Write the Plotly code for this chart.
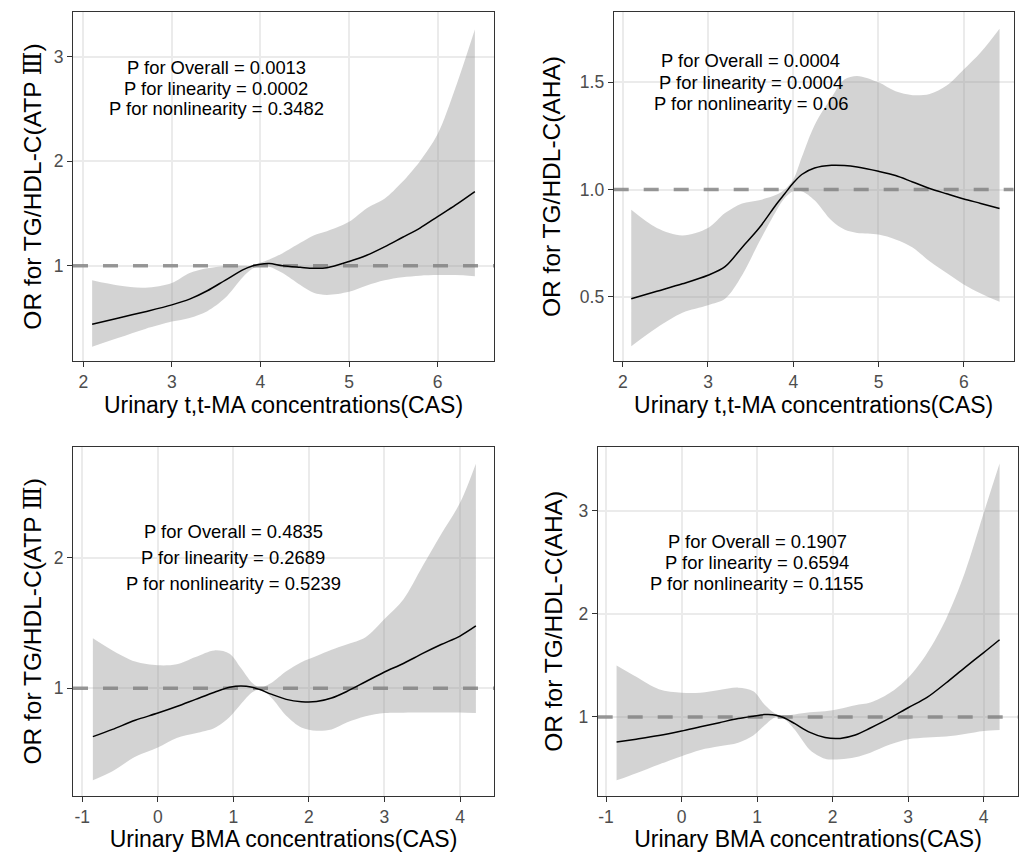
import plotly.graph_objects as go

# ---------------- data ----------------
# Top row: urinary t,t-MA
ttma_x = [2.1, 2.4, 2.7, 3.0, 3.2, 3.4, 3.6, 3.8, 3.9, 4.0, 4.1, 4.25, 4.45,
          4.6, 4.75, 5.0, 5.2, 5.4, 5.6, 5.8, 6.0, 6.2, 6.42]

atp_ttma_or = [0.44, 0.50, 0.56, 0.625, 0.68, 0.76, 0.86, 0.96, 0.995, 1.015, 1.02, 1.0, 0.985,
               0.975, 0.98, 1.04, 1.10, 1.18, 1.27, 1.36, 1.47, 1.58, 1.71]
atp_ttma_lo = [0.225, 0.31, 0.395, 0.465, 0.50, 0.565, 0.69, 0.89, 0.965, 1.0, 0.99, 0.93, 0.815,
               0.74, 0.72, 0.75, 0.81, 0.86, 0.89, 0.905, 0.91, 0.91, 0.90]
atp_ttma_hi = [0.86, 0.81, 0.79, 0.835, 0.93, 0.975, 0.995, 1.0, 1.0, 1.03, 1.06, 1.12, 1.22,
               1.29, 1.33, 1.42, 1.55, 1.64, 1.80, 2.0, 2.26, 2.70, 3.26]

aha_ttma_or = [0.49, 0.525, 0.56, 0.60, 0.64, 0.73, 0.82, 0.93, 0.98, 1.03, 1.07, 1.10, 1.113,
               1.112, 1.105, 1.085, 1.065, 1.035, 1.005, 0.98, 0.956, 0.935, 0.911]
aha_ttma_lo = [0.269, 0.355, 0.425, 0.46, 0.49, 0.60, 0.755, 0.90, 0.96, 0.992, 0.992, 0.95, 0.855,
               0.813, 0.797, 0.79, 0.767, 0.73, 0.665, 0.61, 0.557, 0.515, 0.476]
aha_ttma_hi = [0.905, 0.82, 0.785, 0.82, 0.89, 0.935, 0.95, 0.975, 1.0, 1.045, 1.15, 1.30, 1.43,
               1.513, 1.53, 1.50, 1.458, 1.44, 1.446, 1.485, 1.56, 1.64, 1.75]

# Bottom row: urinary BMA
bma_x = [-0.86, -0.6, -0.3, 0.0, 0.25, 0.5, 0.75, 0.95, 1.1, 1.25, 1.35, 1.5, 1.7, 1.9,
         2.1, 2.3, 2.5, 2.75, 3.0, 3.25, 3.5, 3.75, 4.0, 4.21]

atp_bma_or = [0.63, 0.685, 0.755, 0.81, 0.86, 0.915, 0.97, 1.008, 1.018, 1.008, 0.99, 0.955,
              0.915, 0.897, 0.898, 0.925, 0.975, 1.05, 1.125, 1.19, 1.265, 1.335, 1.40, 1.477]
atp_bma_lo = [0.296, 0.365, 0.475, 0.546, 0.62, 0.655, 0.695, 0.78, 0.88, 0.97, 0.99, 0.93,
              0.79, 0.70, 0.675, 0.685, 0.737, 0.785, 0.81, 0.813, 0.814, 0.814, 0.814, 0.81]
atp_bma_hi = [1.383, 1.29, 1.205, 1.176, 1.184, 1.24, 1.29, 1.265, 1.155, 1.04, 1.005, 1.04,
              1.13, 1.20, 1.247, 1.295, 1.335, 1.39, 1.53, 1.68, 1.93, 2.18, 2.42, 2.72]

aha_bma_or = [0.757, 0.785, 0.82, 0.864, 0.905, 0.945, 0.985, 1.008, 1.023, 1.018, 0.995, 0.935,
              0.85, 0.80, 0.792, 0.825, 0.893, 0.986, 1.09, 1.19, 1.33, 1.48, 1.625, 1.75]
aha_bma_lo = [0.385, 0.455, 0.54, 0.62, 0.68, 0.715, 0.75, 0.82, 0.92, 1.0, 0.985, 0.875,
              0.68, 0.595, 0.59, 0.61, 0.654, 0.73, 0.783, 0.80, 0.81, 0.835, 0.864, 0.874]
aha_bma_hi = [1.50, 1.39, 1.27, 1.236, 1.236, 1.262, 1.285, 1.25, 1.12, 1.03, 1.015, 1.025,
              1.045, 1.055, 1.08, 1.115, 1.14, 1.23, 1.382, 1.62, 1.95, 2.40, 2.98, 3.46]

ttma_ticks = [2, 3, 4, 5, 6]
ttma_tick_labels = ["2", "3", "4", "5", "6"]
bma_ticks = [-1, 0, 1, 2, 3, 4]
bma_tick_labels = ["-1", "0", "1", "2", "3", "4"]

ttma_title = "Urinary t,t-MA concentrations(CAS)"
bma_title = "Urinary BMA concentrations(CAS)"
atp_title = "OR for TG/HDL-C(ATP <span style=\"font-family:'DejaVu Serif'\">\u2162</span>)"
aha_title = "OR for TG/HDL-C(AHA)"

p_texts = [
    ["P for Overall = 0.0013", "P for linearity = 0.0002", "P for nonlinearity = 0.3482"],
    ["P for Overall = 0.0004", "P for linearity = 0.0004", "P for nonlinearity = 0.06"],
    ["P for Overall = 0.4835", "P for linearity = 0.2689", "P for nonlinearity = 0.5239"],
    ["P for Overall = 0.1907", "P for linearity = 0.6594", "P for nonlinearity = 0.1155"],
]
p_x = [3.5, 3.5, 1.0, 1.0]
p_y = [[2.9, 2.7, 2.5], [1.6, 1.5, 1.4], [2.2, 2.0, 1.8], [2.7, 2.5, 2.3]]

# ---------------- layout geometry ----------------
W, H = 1022, 852
panels = [
    dict(x=ttma_x, orv=atp_ttma_or, lo=atp_ttma_lo, hi=atp_ttma_hi,
         px=(73, 494), py=(12, 361), xr=[1.884, 6.636], yr=[0.088, 3.428],
         xt=ttma_ticks, xtt=ttma_tick_labels, yt=[1, 2, 3], yfmt="d",
         xtitle=ttma_title, ytitle=atp_title, ysoff=5),
    dict(x=ttma_x, orv=aha_ttma_or, lo=aha_ttma_lo, hi=aha_ttma_hi,
         px=(613.7, 1013.7), py=(12, 361), xr=[1.894, 6.586], yr=[0.2, 1.828],
         xt=ttma_ticks, xtt=ttma_tick_labels, yt=[0.5, 1.0, 1.5], yfmt=".1f",
         xtitle=ttma_title, ytitle=aha_title, ysoff=12),
    dict(x=bma_x, orv=atp_bma_or, lo=atp_bma_lo, hi=atp_bma_hi,
         px=(73, 494), py=(446.7, 796), xr=[-1.123, 4.45], yr=[0.175, 2.85],
         xt=bma_ticks, xtt=bma_tick_labels, yt=[1, 2], yfmt="d",
         xtitle=bma_title, ytitle=atp_title, ysoff=5),
    dict(x=bma_x, orv=aha_bma_or, lo=aha_bma_lo, hi=aha_bma_hi,
         px=(597.7, 1018.3), py=(446.7, 796), xr=[-1.11, 4.458], yr=[0.233, 3.624],
         xt=bma_ticks, xtt=bma_tick_labels, yt=[1, 2, 3], yfmt="d",
         xtitle=bma_title, ytitle=aha_title, ysoff=8),
]

FONT = "Liberation Sans, Arial, Helvetica, Noto Sans CJK SC, sans-serif"
RIBBON = "rgba(150,150,150,0.42)"
REF = "rgba(127,127,127,0.8)"

fig = go.Figure()
layout = dict(
    width=W, height=H, margin=dict(l=0, r=0, t=0, b=0),
    paper_bgcolor="white", plot_bgcolor="white", showlegend=False,
    font=dict(family=FONT, color="black"),
)
annotations = []

for i, p in enumerate(panels):
    n = "" if i == 0 else str(i + 1)
    xa, ya = "x" + n, "y" + n
    # ribbon
    fig.add_trace(go.Scatter(x=p["x"], y=p["lo"], mode="lines", xaxis=xa, yaxis=ya,
                             line=dict(width=0, shape="spline", smoothing=0.9, color=RIBBON),
                             hoverinfo="skip"))
    fig.add_trace(go.Scatter(x=p["x"], y=p["hi"], mode="lines", xaxis=xa, yaxis=ya,
                             fill="tonexty", fillcolor=RIBBON,
                             line=dict(width=0, shape="spline", smoothing=0.9, color=RIBBON),
                             hoverinfo="skip"))
    # reference line OR = 1 across the panel
    fig.add_trace(go.Scatter(x=p["xr"], y=[1, 1], mode="lines", xaxis=xa, yaxis=ya,
                             line=dict(color=REF, width=3.5, dash="15px,15px"),
                             hoverinfo="skip"))
    # OR curve
    fig.add_trace(go.Scatter(x=p["x"], y=p["orv"], mode="lines", xaxis=xa, yaxis=ya,
                             line=dict(color="black", width=1.5, shape="spline", smoothing=0.9)))

    common = dict(showgrid=True, gridcolor="#EBEBEB", gridwidth=1.8, zeroline=False,
                  showline=True, mirror=True, linecolor="#333333", linewidth=1.1,
                  ticks="outside", ticklen=5, tickwidth=1.1, tickcolor="#333333",
                  tickfont=dict(size=17.5, color="#4D4D4D", family=FONT),
                  automargin=False, fixedrange=True)
    layout["xaxis" + n] = dict(
        common, domain=[p["px"][0] / W, p["px"][1] / W], range=p["xr"],
        tickmode="array", tickvals=p["xt"], ticktext=p["xtt"], anchor=ya,
        title=dict(text=p["xtitle"], font=dict(size=23, color="black", family=FONT), standoff=4),
    )
    layout["yaxis" + n] = dict(
        common, domain=[1 - p["py"][1] / H, 1 - p["py"][0] / H], range=p["yr"],
        tickvals=p["yt"], tickformat=p["yfmt"], anchor=xa,
        title=dict(text=p["ytitle"], font=dict(size=24.5, color="black", family=FONT),
                   standoff=p["ysoff"]),
    )
    for txt, yy in zip(p_texts[i], p_y[i]):
        annotations.append(dict(x=p_x[i], y=yy, xref=xa, yref=ya, text=txt, showarrow=False,
                                xanchor="center", yanchor="middle",
                                font=dict(size=18.4, color="black", family=FONT)))

layout["annotations"] = annotations
fig.update_layout(**layout)
fig.write_html(
    "out.html",
    config={"displayModeBar": False},
    post_script="document.body.style.margin='0';document.body.style.padding='0';",
)
